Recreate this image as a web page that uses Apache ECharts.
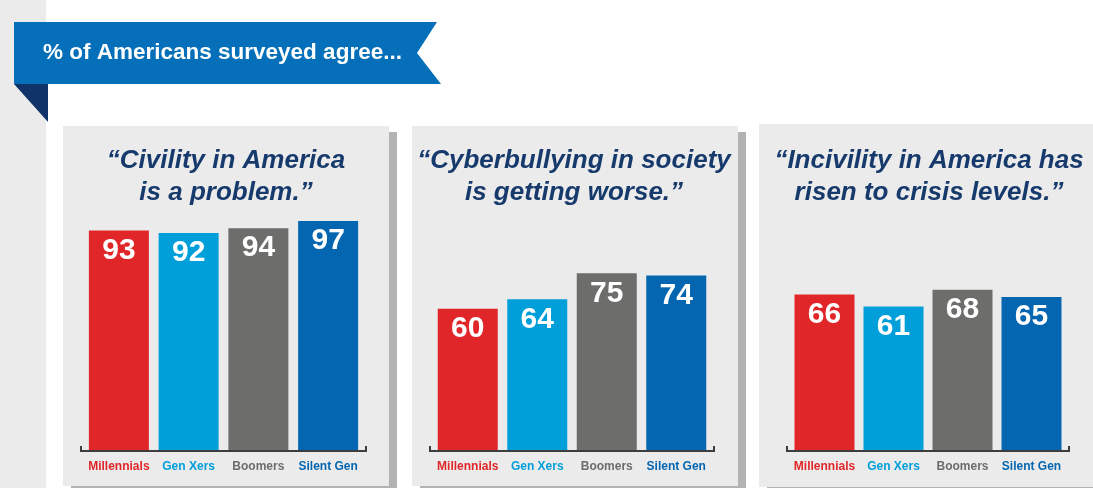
<!DOCTYPE html>
<html><head><meta charset="utf-8">
<script src="https://cdn.jsdelivr.net/npm/echarts@6/dist/echarts.min.js"></script>
<style>html,body{margin:0;padding:0;background:#fff}#c{width:1093px;height:488px}</style>
</head><body><div id="c"></div>
<script>
const bannerText = '% of Americans surveyed agree...';
const categories = ['Millennials', 'Gen Xers', 'Boomers', 'Silent Gen'];
const titles = [
  '\u201cCivility in America\nis a problem.\u201d',
  '\u201cCyberbullying in society\nis getting worse.\u201d',
  '\u201cIncivility in America has\nrisen to crisis levels.\u201d'
];
const civility = [93, 92, 94, 97];
const cyberbullying = [60, 64, 75, 74];
const crisis = [66, 61, 68, 65];
const seriesValues = [civility, cyberbullying, crisis];
const colors = ['#e1262a', '#009fda', '#6d6d6b', '#0466b0'];

const navy = '#173a6d';
const panels = [
  {x: 63, y: 126, w: 326, h: 360},
  {x: 412, y: 126, w: 326, h: 360},
  {x: 759, y: 124, w: 345, h: 363}
];
const grids = [
  {left: 84, width: 279},
  {left: 433, width: 278},
  {left: 790, width: 276}
];
const gridTop = 214, gridBottom = 37, H = 488;
const baseY = H - gridBottom;
const titleCenters = [221, 569, 924];

const graphic = [];
graphic.push({type: 'rect', shape: {x: 0, y: 0, width: 46, height: H}, style: {fill: '#ebebeb'}, z: 0});
panels.forEach(p => {
  graphic.push({type: 'rect', shape: {x: p.x + 8, y: p.y + 6, width: p.w, height: p.h}, style: {fill: '#b3b3b3'}, z: 0});
  graphic.push({type: 'rect', shape: {x: p.x, y: p.y, width: p.w, height: p.h}, style: {fill: '#ebebeb'}, z: 1});
});
// banner ribbon
graphic.push({type: 'polygon', shape: {points: [[14, 84], [48, 84], [48, 122]]}, style: {fill: '#10346a'}, z: 2});
graphic.push({type: 'polygon', shape: {points: [[14, 22], [437, 22], [417, 53], [441, 84], [14, 84]]}, style: {fill: '#0570b9'}, z: 3});
graphic.push({type: 'text', x: 43, y: 53, style: {text: bannerText, fill: '#fff', font: 'bold 22.5px "Liberation Sans", Arial, sans-serif', textVerticalAlign: 'middle'}, z: 4});
// axis brackets
grids.forEach(g => {
  const l = g.left - 3, r = g.left + g.width + 3;
  graphic.push({type: 'polyline', shape: {points: [[l, baseY - 5], [l, baseY], [r, baseY], [r, baseY - 5]]},
    style: {stroke: '#3d3d3d', lineWidth: 2, fill: null}, z: 20});
});

const option = {
  animation: false,
  backgroundColor: '#ffffff',
  graphic: graphic,
  title: titles.map((t, i) => ({
    text: t, left: titleCenters[i], top: 140, textAlign: 'center', z: 30,
    textStyle: {color: navy, fontSize: 26, fontWeight: 'bold', fontStyle: 'italic',
      fontFamily: '"Liberation Sans", Arial, sans-serif', lineHeight: 32}
  })),
  grid: grids.map(g => ({left: g.left, width: g.width, top: gridTop, bottom: gridBottom})),
  xAxis: grids.map((g, i) => ({
    type: 'category', gridIndex: i, data: categories, z: 30,
    axisLine: {show: false}, axisTick: {show: false},
    axisLabel: {interval: 0, margin: 10, fontSize: 12, fontWeight: 'bold', fontFamily: '"Liberation Sans", Arial, sans-serif',
      color: (v, idx) => colors[categories.indexOf(v)]}
  })),
  yAxis: grids.map((g, i) => ({type: 'value', gridIndex: i, min: 0, max: 100, show: false, splitLine: {show: false}})),
  series: seriesValues.map((vals, i) => ({
    type: 'bar', xAxisIndex: i, yAxisIndex: i, barWidth: 60,
    data: vals.map((v, j) => ({value: v, itemStyle: {color: colors[j]}})),
    label: {show: true, position: 'insideTop', distance: 5, color: '#fff', fontSize: 30, fontWeight: 'bold',
      fontFamily: '"Liberation Sans", Arial, sans-serif'},
    z: 10
  }))
};
const chart = echarts.init(document.getElementById('c'), null, {renderer: 'canvas'});
chart.setOption(option);
</script></body></html>
